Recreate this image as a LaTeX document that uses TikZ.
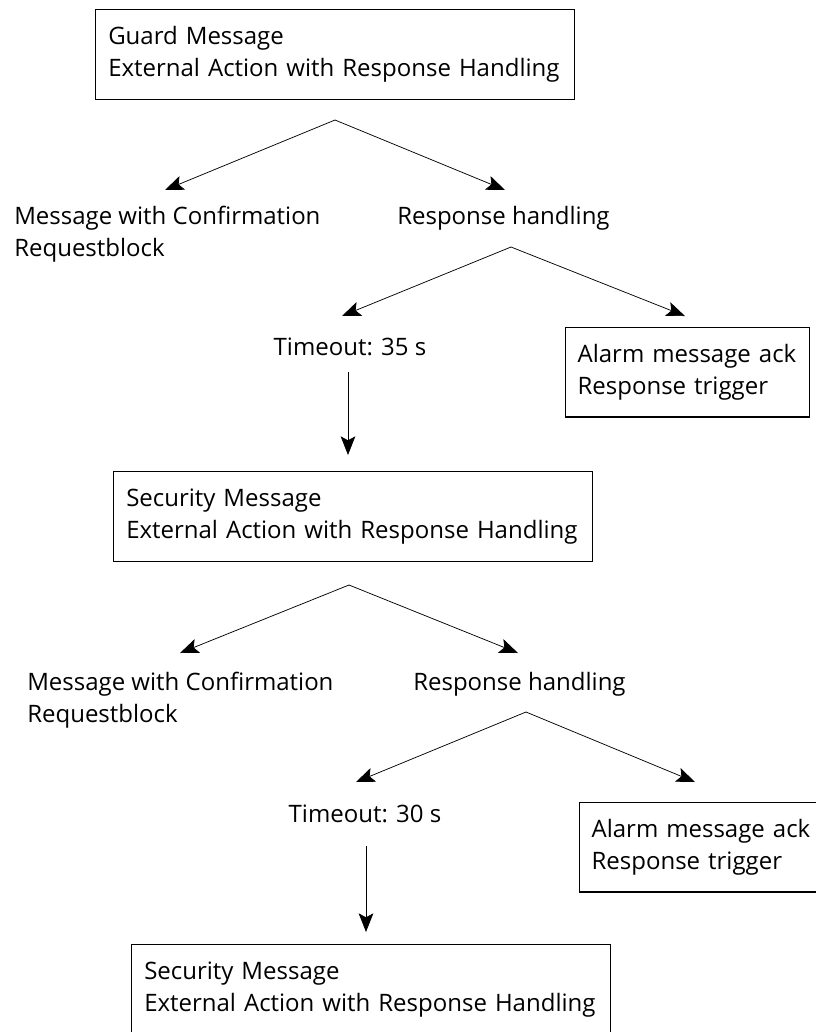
\documentclass[tikz,border=0pt]{standalone}
\usepackage{fontspec}
\setmainfont{Open Sans}
\usetikzlibrary{arrows.meta}

\begin{document}
\begin{tikzpicture}[x=0.75pt, y=-0.75pt]
  \tikzstyle{txt}=[font=\fontsize{18}{24}\selectfont, inner sep=0pt, align=left]
  \tikzstyle{box}=[txt, draw, line width=0.9pt, anchor=north west, inner xsep=9.5pt, minimum height=67.5pt, text width=340pt]
  \tikzstyle{abox}=[txt, draw, line width=0.9pt, anchor=north west, inner xsep=9pt, minimum height=67pt, text width=165pt]
  \tikzstyle{arr}=[line width=0.55pt, -{Stealth[length=14pt, width=11pt, inset=3pt]}]

  \useasboundingbox (0,0) rectangle (816,1032);
  \clip (0,0) rectangle (816,1032);

  % erster block (guard)
  \node[box] (guard) at (95,9) {Guard Message\\External Action with Response Handling};
  \coordinate (g-top) at (335,120);
  \coordinate (g-l) at (165,190);
  \coordinate (g-r) at (505,190);
  \draw[arr] (g-top) -- (g-l);
  \draw[arr] (g-top) -- (g-r);
  \node[txt, anchor=west] (conf1) at (14,234) {Message with Confirmation\\Requestblock};
  \node[txt, anchor=west] (resp1) at (397,218) {Response handling};

  % antwort 1
  \coordinate (r1-top) at (511,247);
  \coordinate (r1-l) at (342,316);
  \coordinate (r1-r) at (685,316);
  \draw[arr] (r1-top) -- (r1-l);
  \draw[arr] (r1-top) -- (r1-r);
  \node[txt] (tout1) at (350,347) {Timeout: 35 s};
  \node[abox] (ack1) at (565,327) {Alarm message ack\\Response trigger};
  \coordinate (t1-a) at (348,372);
  \coordinate (t1-b) at (348,455);
  \draw[arr] (t1-a) -- (t1-b);

  % zweiter block (security)
  \node[box] (sec1) at (113,471) {Security Message\\External Action with Response Handling};
  \coordinate (s1-top) at (349,585);
  \coordinate (s1-l) at (180,653);
  \coordinate (s1-r) at (518,653);
  \draw[arr] (s1-top) -- (s1-l);
  \draw[arr] (s1-top) -- (s1-r);
  \node[txt, anchor=west] (conf2) at (27,700) {Message with Confirmation\\Requestblock};
  \node[txt, anchor=west] (resp2) at (413,684) {Response handling};

  % antwort 2
  \coordinate (r2-top) at (526,712);
  \coordinate (r2-l) at (356,782);
  \coordinate (r2-r) at (695,782);
  \draw[arr] (r2-top) -- (r2-l);
  \draw[arr] (r2-top) -- (r2-r);
  \node[txt] (tout2) at (365,814) {Timeout: 30 s};
  \node[abox] (ack2) at (579,802) {Alarm message ack\\Response trigger};
  \coordinate (t2-a) at (366,846);
  \coordinate (t2-b) at (366,932);
  \draw[arr] (t2-a) -- (t2-b);

  % dritter block
  \node[box] (sec2) at (131,944) {Security Message\\External Action with Response Handling};
\end{tikzpicture}
\end{document}
